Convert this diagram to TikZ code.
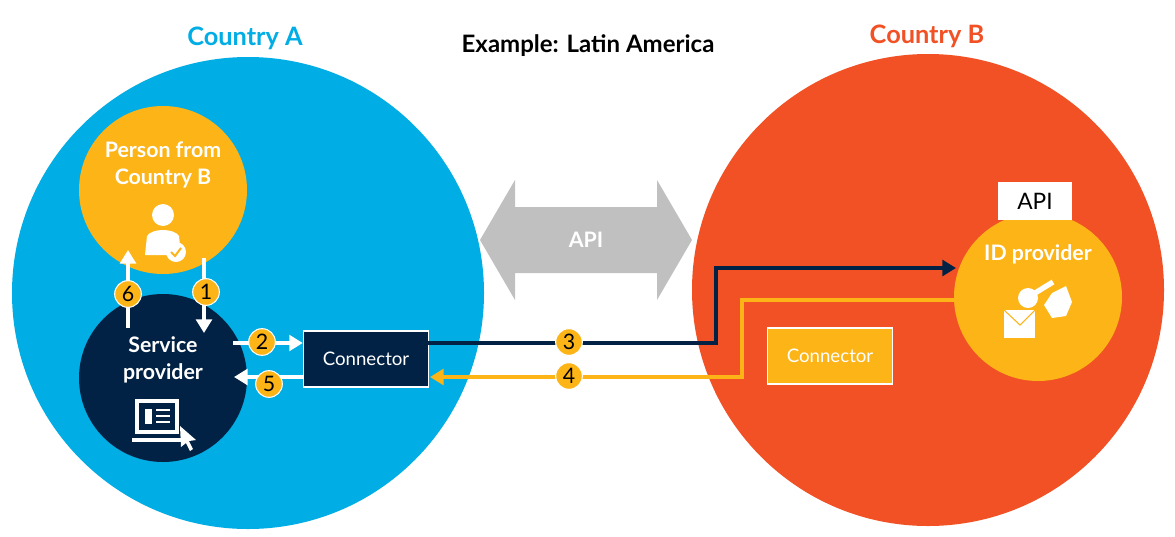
\documentclass[tikz,border=0pt]{standalone}
\usepackage{fontspec}
\setmainfont{Lato}
\usetikzlibrary{arrows.meta, positioning, calc}
\definecolor{cblue}{RGB}{0,173,228}
\definecolor{corange}{RGB}{241,81,36}
\definecolor{cyellow}{RGB}{252,180,22}
\definecolor{cnavy}{RGB}{1,34,68}
\definecolor{cgray}{RGB}{192,192,192}
\tikzset{
	>=Triangle,
	country/.style={circle, draw=none, minimum size=354pt},
	actor/.style={circle, draw=none, minimum size=126pt},
	lbl/.style={text=white, font=\fontsize{16}{20}\selectfont\bfseries, align=center},
	badge/.style={circle, fill=cyellow, draw=white, thick, minimum size=20pt, inner sep=0pt, font=\fontsize{16}{18}\selectfont},
	conn/.style={draw=white, thick, minimum width=94pt, minimum height=42pt, text=white, font=\fontsize{14}{16}\selectfont},
	flow/.style={white, line width=2.5pt, ->},
	title/.style={font=\fontsize{19}{22}\selectfont\bfseries},
}
\begin{document}
\begin{tikzpicture}[x=0.75pt, y=-0.75pt]
	\useasboundingbox (0,0) rectangle (1175,536);
	\fill[white] (0,0) rectangle (1175,536);
	% countries
	\node[country, fill=cblue] (A) at (248,293) {};
	\node[country, fill=corange] (B) at (928,290) {};
	\node[title, text=cblue] (titleA) at (245,38) {Country A};
	\node[title, text=corange] (titleB) at (927,36) {Country B};
	\node[title, font=\fontsize{18}{22}\selectfont\bfseries] (example) at (588,46) {Example: Latin America};
	% API arrow
	\fill[cgray] (480,240) -- (515,180) -- (515,207) -- (657,207) -- (657,180) -- (692,240)
		-- (657,300) -- (657,273) -- (515,273) -- (515,300) -- cycle;
	\node[lbl] (api) at (586,240) {API};
	% actors
	\node[actor, fill=cyellow] (person) at (163,190) {};
	\node[lbl] (personlbl) at (163,165) {Person from\\Country B};
	\node[actor, fill=cnavy] (sp) at (163,378) {};
	\node[lbl] (splbl) at (163,360) {Service\\provider};
	\node[actor, fill=cyellow] (idp) at (1038,297) {};
	\node[lbl] (idplbl) at (1038,254) {ID provider};
	\node[fill=white, minimum width=56pt, minimum height=28pt, font=\fontsize{17}{20}\selectfont] (idapi) at (1035,201) {API};
	% icons
	\fill[white] (163,215) circle (11);
	\fill[white] (145,255) -- (147,236) .. controls (152,228) and (174,228) .. (179,236) -- (181,255) -- cycle;
	\fill[white] (176,252) circle (10);
	\draw[cyellow, line width=1.5pt] (171,252) -- (175,256) -- (181,248);
	\draw[white, line width=3pt] (137,401) rectangle (177,432);
	\draw[white, line width=3pt] (132,440) -- (182,440);
	\fill[white] (145,409) rectangle (152,424);
	\foreach \yy in {410,416,422} \draw[white, line width=2pt] (156,\yy) -- (170,\yy);
	\fill[white] (180,426) -- (196,440) -- (189,441) -- (193,449) -- (190,451) -- (186,443) -- (181,447) -- cycle;
	\fill[white] (1028,298) circle (10);
	\draw[white, line width=4pt] (1035,293) -- (1053,282);
	\fill[white] (1052,293) -- (1066,286) -- (1072,302) -- (1066,316) -- (1052,318) -- (1044,305) -- cycle;
	\fill[white] (1004,310) rectangle (1035,338);
	\draw[cyellow, thick] (1004,310) -- (1020,325) -- (1035,310);
	% connectors
	\node[conn, fill=cnavy] (connA) at (366,359) {Connector};
	\node[conn, fill=cyellow] (connB) at (830,356) {Connector};
	\coordinate (tA) at (428,343);
	\coordinate (tB) at (430,377);
	\draw[cnavy, line width=2.5pt, ->] (tA) -- (716,343) -- (716,268) -- (956,268);
	\draw[cyellow, line width=2.5pt, ->] (idp.west |- 0,300) -- (742,300) -- (742,377) -- (tB);
	\node[badge] (b3) at (569,342) {3};
	\node[badge] (b4) at (569,376) {4};
	% local flows
	\coordinate (p1) at (204,258);
	\coordinate (s1) at (204,333);
	\coordinate (s6) at (128,328);
	\coordinate (p6) at (128,250);
	\coordinate (s2) at (233,343);
	\coordinate (s5) at (234,377);
	\draw[flow] (p1) -- (s1);
	\draw[flow] (s6) -- (p6);
	\draw[flow] (s2) -- (connA.west |- s2);
	\draw[flow] (connA.west |- s5) -- (s5);
	\node[badge] (b1) at (206,292) {1};
	\node[badge] (b6) at (128,294) {6};
	\node[badge] (b2) at (262,342) {2};
	\node[badge] (b5) at (269,384) {5};
\end{tikzpicture}
\end{document}
